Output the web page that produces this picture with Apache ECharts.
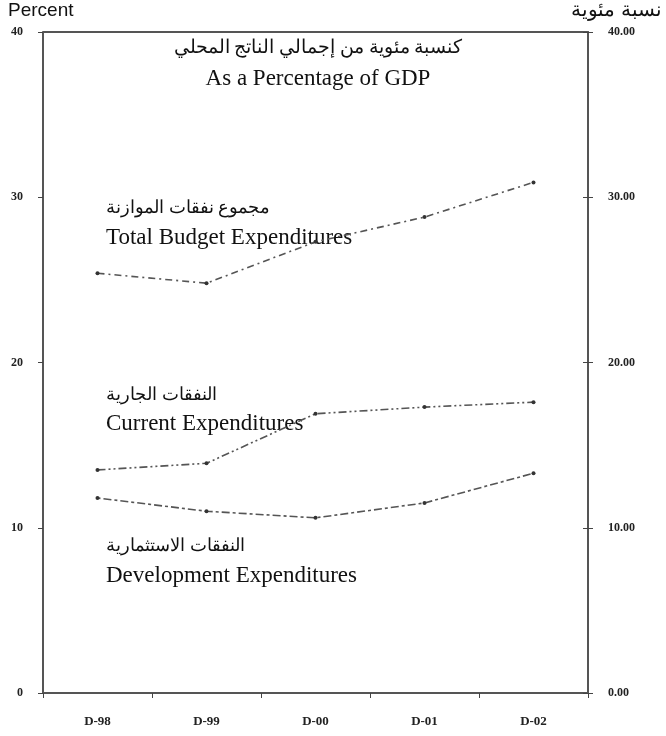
<!DOCTYPE html>
<html>
<head>
<meta charset="utf-8">
<script src="https://cdn.jsdelivr.net/npm/echarts@6/dist/echarts.min.js"></script>
<style>
  html, body { margin: 0; padding: 0; background: #fff; }
  #chart { width: 666px; height: 736px; }
</style>
</head>
<body>
<div id="chart"></div>
<script>
var categories = ['D-98', 'D-99', 'D-00', 'D-01', 'D-02']
var totalBudget = [25.4, 24.8, 27.3, 28.8, 30.9]
var currentExp = [13.5, 13.9, 16.9, 17.3, 17.6]
var developmentExp = [11.8, 11.0, 10.6, 11.5, 13.3]
var leftTicks = ['0', '10', '20', '30', '40']
var rightTicks = ['0.00', '10.00', '20.00', '30.00', '40.00']

var chart = echarts.init(document.getElementById('chart'))

var serif = 'Liberation Serif'
var axisColor = '#555'

function lineSeries(name, data, dash) {
  return {
    name: name,
    type: 'line',
    data: data,
    symbol: 'circle',
    symbolSize: 4,
    itemStyle: { color: '#333' },
    lineStyle: { color: '#555', width: 1.6, type: dash },
    z: 3
  }
}

function valueAxis(pos, labels, showLabel, inside) {
  return {
    type: 'value',
    min: 0,
    max: 40,
    interval: 10,
    position: pos,
    axisLine: { show: true, lineStyle: { color: axisColor, width: 2 } },
    axisTick: { show: true, inside: inside, length: 5, lineStyle: { color: '#444' } },
    splitLine: { show: false },
    axisLabel: {
      show: showLabel,
      color: '#222', fontFamily: serif, fontWeight: 'bold', fontSize: 12, margin: 20,
      formatter: function (v) { return labels[v / 10] }
    }
  }
}

chart.setOption({
  animation: false,
  grid: { left: 43, right: 78, top: 32, bottom: 43 },
  xAxis: {
    type: 'category',
    data: categories,
    boundaryGap: true,
    axisLine: { lineStyle: { color: axisColor, width: 2 } },
    axisTick: { show: true, length: 5, lineStyle: { color: '#444' } },
    axisLabel: { color: '#222', fontFamily: serif, fontWeight: 'bold', fontSize: 13, margin: 22 }
  },
  yAxis: [
    valueAxis('left', leftTicks, true, false),
    valueAxis('right', rightTicks, true, false),
    // inner half of the cross ticks on the right axis
    valueAxis('right', rightTicks, false, true)
  ],
  graphic: [
    // top frame line
    { type: 'line', shape: { x1: 43, y1: 32, x2: 588, y2: 32 }, style: { stroke: axisColor, lineWidth: 2 } },
    { type: 'text', left: 8, top: 1, style: { text: 'Percent', font: '19px Liberation Sans', fill: '#111' } },
    { type: 'text', x: 662, y: 10, style: { text: 'نسبة مئوية', font: '20px Liberation Sans', fill: '#111', align: 'right', verticalAlign: 'middle' } },
    { type: 'text', x: 318, y: 48, style: { text: 'كنسبة مئوية من إجمالي الناتج المحلي', font: '19px ' + serif, fill: '#111', align: 'center', verticalAlign: 'middle' } },
    { type: 'text', x: 318, y: 79, style: { text: 'As a Percentage of GDP', font: '23px ' + serif, fill: '#111', align: 'center', verticalAlign: 'middle' } },
    { type: 'text', x: 106, y: 208, style: { text: 'مجموع نفقات الموازنة', font: '18px ' + serif, fill: '#111', verticalAlign: 'middle' } },
    { type: 'text', x: 106, y: 238, style: { text: 'Total Budget Expenditures', font: '23px ' + serif, fill: '#111', verticalAlign: 'middle' } },
    { type: 'text', x: 106, y: 395, style: { text: 'النفقات الجارية', font: '18px ' + serif, fill: '#111', verticalAlign: 'middle' } },
    { type: 'text', x: 106, y: 424, style: { text: 'Current Expenditures', font: '23px ' + serif, fill: '#111', verticalAlign: 'middle' } },
    { type: 'text', x: 106, y: 546, style: { text: 'النفقات الاستثمارية', font: '18px ' + serif, fill: '#111', verticalAlign: 'middle' } },
    { type: 'text', x: 106, y: 576, style: { text: 'Development Expenditures', font: '23px ' + serif, fill: '#111', verticalAlign: 'middle' } }
  ],
  series: [
    lineSeries('Total Budget Expenditures', totalBudget, [7, 4, 2, 4]),
    lineSeries('Current Expenditures', currentExp, [8, 3, 2, 3, 2, 3]),
    lineSeries('Development Expenditures', developmentExp, [3, 3, 8, 3])
  ]
})
</script>
</body>
</html>
